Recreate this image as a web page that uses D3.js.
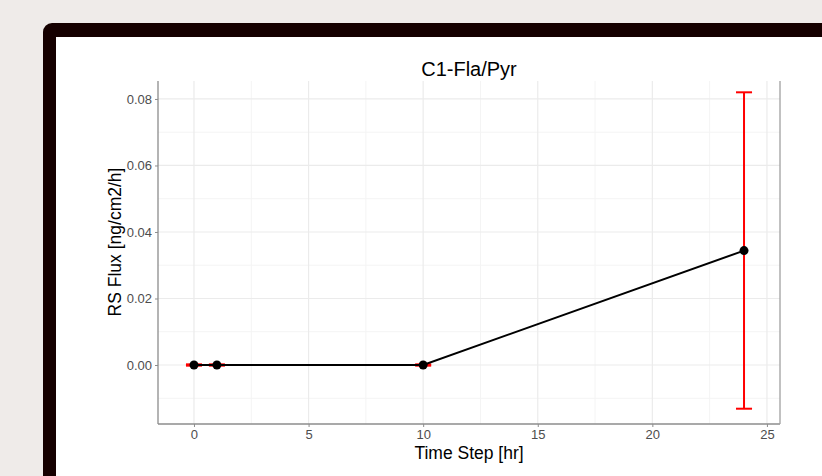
<!DOCTYPE html>
<html lang="en">
<head>
  <meta charset="utf-8" />
  <title>C1-Fla/Pyr</title>
  <script src="https://d3js.org/d3.v7.min.js"></script>
  <style>
    body { margin: 0; background: #efebe9; font-family: "Liberation Sans", Arial, sans-serif; }
    svg { display: block; }
  </style>
</head>
<body>
<svg width="822" height="476"></svg>
<script>
// data
var timeSteps = [0, 1, 10, 24];
var fluxMean  = [0.0, 0.0, 0.0, 0.0344];
var fluxLow   = [-0.0002, -0.0002, -0.0002, -0.01314];
var fluxHigh  = [0.0002, 0.0002, 0.0002, 0.0820];
var xTicks = [0, 5, 10, 15, 20, 25];
var yTicks = [0.00, 0.02, 0.04, 0.06, 0.08];

var svg = d3.select("svg");

// frame around the plot
svg.append("rect")
  .attr("x", 43).attr("y", 23)
  .attr("width", 822).attr("height", 500)
  .attr("rx", 9)
  .attr("fill", "#150000");
svg.append("rect")
  .attr("x", 56).attr("y", 37)
  .attr("width", 822).attr("height", 500)
  .attr("fill", "#ffffff");

// panel edges (note: "top" is reserved on window, so use pTop etc.)
var pLeft = 158, pRight = 780, pTop = 81, pBottom = 424;

var x = d3.scaleLinear().domain([-1.57, 25.57]).range([pLeft, pRight]);
var y = d3.scaleLinear().domain([-0.01774, 0.0854]).range([pBottom, pTop]);

// grid lines (minor then major)
var g = svg.append("g");
var xMinor = [2.5, 7.5, 12.5, 17.5, 22.5];
var yMinor = [-0.01, 0.01, 0.03, 0.05, 0.07];
g.selectAll(".xminor").data(xMinor).enter().append("line")
  .attr("x1", x).attr("x2", x).attr("y1", pTop).attr("y2", pBottom)
  .attr("stroke", "#f4f4f4").attr("stroke-width", 1);
g.selectAll(".yminor").data(yMinor).enter().append("line")
  .attr("x1", pLeft).attr("x2", pRight).attr("y1", y).attr("y2", y)
  .attr("stroke", "#f4f4f4").attr("stroke-width", 1);
g.selectAll(".xmajor").data(xTicks).enter().append("line")
  .attr("x1", x).attr("x2", x).attr("y1", pTop).attr("y2", pBottom)
  .attr("stroke", "#ebebeb").attr("stroke-width", 1.2);
g.selectAll(".ymajor").data(yTicks).enter().append("line")
  .attr("x1", pLeft).attr("x2", pRight).attr("y1", y).attr("y2", y)
  .attr("stroke", "#ebebeb").attr("stroke-width", 1.2);

// axes
var xAxis = svg.append("g")
  .attr("transform", "translate(0," + pBottom + ")")
  .call(d3.axisBottom(x).tickValues(xTicks).tickSize(3).tickSizeOuter(0).tickPadding(3));
var yAxis = svg.append("g")
  .attr("transform", "translate(" + pLeft + ",0)")
  .call(d3.axisLeft(y).tickValues(yTicks).tickSize(3).tickSizeOuter(0).tickPadding(3)
    .tickFormat(d3.format(".2f")));
[xAxis, yAxis].forEach(function (a) {
  a.attr("font-size", 13).attr("font-family", "Liberation Sans, Arial, sans-serif");
  a.select(".domain").remove();
  a.selectAll("line").attr("stroke", "#8c8c8c");
  a.selectAll("text").attr("fill", "#4d4d4d");
});

// panel border lines: left, bottom, right
svg.append("line").attr("x1", pLeft).attr("x2", pLeft).attr("y1", pTop).attr("y2", pBottom)
  .attr("stroke", "#8c8c8c").attr("stroke-width", 1.3);
svg.append("line").attr("x1", pLeft).attr("x2", pRight).attr("y1", pBottom).attr("y2", pBottom)
  .attr("stroke", "#8c8c8c").attr("stroke-width", 1.3);
svg.append("line").attr("x1", pRight).attr("x2", pRight).attr("y1", pTop).attr("y2", pBottom)
  .attr("stroke", "#a0a0a0").attr("stroke-width", 1.3);

var rows = timeSteps.map(function (t, i) {
  return { t: t, m: fluxMean[i], lo: fluxLow[i], hi: fluxHigh[i] };
});

// error bars
var eb = svg.append("g").attr("stroke", "#ff0000").attr("stroke-width", 2).attr("fill", "none");
var cap = 0.35;
rows.forEach(function (d) {
  eb.append("line").attr("x1", x(d.t)).attr("x2", x(d.t)).attr("y1", y(d.lo)).attr("y2", y(d.hi));
  eb.append("line").attr("x1", x(d.t - cap)).attr("x2", x(d.t + cap)).attr("y1", y(d.lo)).attr("y2", y(d.lo));
  eb.append("line").attr("x1", x(d.t - cap)).attr("x2", x(d.t + cap)).attr("y1", y(d.hi)).attr("y2", y(d.hi));
});

// line and points
svg.append("path")
  .datum(rows)
  .attr("fill", "none")
  .attr("stroke", "#000")
  .attr("stroke-width", 2)
  .attr("d", d3.line().x(function (d) { return x(d.t); }).y(function (d) { return y(d.m); }));
svg.append("g").selectAll("circle").data(rows).enter().append("circle")
  .attr("cx", function (d) { return x(d.t); })
  .attr("cy", function (d) { return y(d.m); })
  .attr("r", 4.5)
  .attr("fill", "#000");

// titles
svg.append("text")
  .attr("x", (pLeft + pRight) / 2).attr("y", 76)
  .attr("text-anchor", "middle").attr("font-size", 20).attr("fill", "#000")
  .text("C1-Fla/Pyr");
svg.append("text")
  .attr("x", (pLeft + pRight) / 2).attr("y", 459)
  .attr("text-anchor", "middle").attr("font-size", 17.5).attr("fill", "#000")
  .text("Time Step [hr]");
svg.append("text")
  .attr("transform", "translate(121,242) rotate(-90)")
  .attr("text-anchor", "middle").attr("font-size", 17.5).attr("fill", "#000")
  .text("RS Flux [ng/cm2/h]");
</script>
</body>
</html>
